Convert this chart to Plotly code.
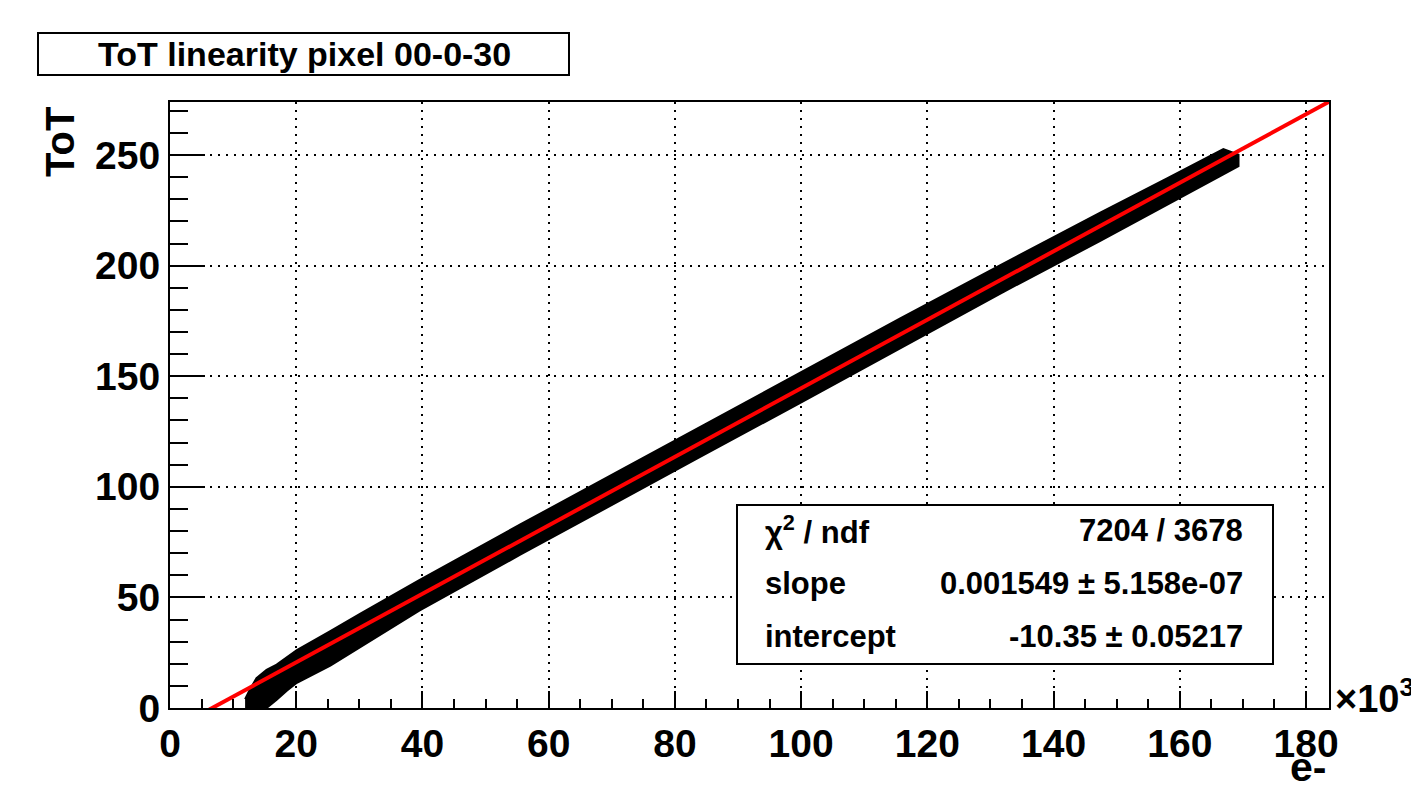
import numpy as np
import plotly.graph_objects as go

# ---------------- data ----------------
title_text = "ToT linearity pixel 00-0-30"
x_title = "e-"
y_title = "ToT"

# measured data band (ToT vs injected charge in e-): upper / lower envelope of the points
band_x = [11900, 12600, 13700, 15300, 16900, 18500, 20100, 25400, 30100,
          39500, 55500, 71300, 84000, 99800, 115700, 131500, 147400, 157900,
          166900, 169300]
band_upper = [4.0, 8.0, 13.5, 17.3, 19.6, 23.0, 26.2, 34.8, 42.6,
              57.8, 83.0, 107.4, 127.0, 151.6, 176.2, 200.1, 224.0, 239.4,
              252.7, 250.2]
band_lower = [-3.0, -3.0, -2.0, 0.0, 3.7, 7.8, 11.4, 19.2, 27.6,
              44.0, 69.3, 93.8, 113.5, 137.9, 162.6, 187.3, 211.2, 227.4,
              241.3, 245.0]

# linear fit
fit_slope = 0.001549
fit_intercept = -10.35
stat_labels = ["\u03c7<sup>2</sup> / ndf", "slope", "intercept"]
stat_values = ["7204 / 3678", "0.001549 \u00b1 5.158e-07", "-10.35 \u00b1 0.05217"]

x_tickvals = [0, 20000, 40000, 60000, 80000, 100000, 120000, 140000, 160000, 180000]
x_ticktext = ["0", "20", "40", "60", "80", "100", "120", "140", "160", "180"]
x_range = [0, 183640]
y_range = [0, 274.0]

# ---------------- layout helpers ----------------
W, H = 1411, 792
L, R, T, B = 170, 1329, 102, 708
FONT = "Liberation Sans, Arial, Helvetica, sans-serif"


def px(p):
    return (p - L) / (R - L)


def py(p):
    return (B - p) / (B - T)


fig = go.Figure()

# data band
bx = list(band_x) + list(band_x[::-1])
by = list(band_upper) + list(band_lower[::-1])
fig.add_trace(go.Scatter(x=bx, y=by, mode="lines", fill="toself",
                         fillcolor="black", line=dict(color="black", width=2),
                         hoverinfo="skip", showlegend=False))

# fit line
fx = np.linspace(x_range[0], x_range[1], 200)
fy = fit_slope * fx + fit_intercept
fig.add_trace(go.Scatter(x=fx, y=fy, mode="lines",
                         line=dict(color="#ff0000", width=4),
                         hoverinfo="skip", showlegend=False))

fig.update_layout(
    width=W, height=H, autosize=False,
    margin=dict(l=L, r=W - R, t=T, b=H - B, pad=0),
    paper_bgcolor="white", plot_bgcolor="white",
    showlegend=False,
    font=dict(family=FONT, color="black"),
)

fig.update_xaxes(
    range=x_range, tickmode="array", tickvals=x_tickvals, ticktext=x_ticktext,
    ticks="inside", ticklen=17, tickwidth=2, tickcolor="black",
    tickfont=dict(family=FONT, size=39, color="black", weight="bold"),
    showline=True, linecolor="black", linewidth=2, mirror=True,
    showgrid=True, gridcolor="black", gridwidth=2, griddash="2px,6px",
    zeroline=False,
    minor=dict(ticks="inside", ticklen=9, tickwidth=2, tickcolor="black",
               tick0=0, dtick=5000, showgrid=False),
)
fig.update_yaxes(
    range=y_range, tick0=0, dtick=50,
    ticks="inside", ticklen=35, tickwidth=2, tickcolor="black",
    tickfont=dict(family=FONT, size=39, color="black", weight="bold"),
    showline=True, linecolor="black", linewidth=2, mirror=True,
    showgrid=True, gridcolor="black", gridwidth=2, griddash="2px,6px",
    zeroline=False,
    minor=dict(ticks="inside", ticklen=18, tickwidth=2, tickcolor="black",
               tick0=0, dtick=10, showgrid=False),
)

shapes = []
annotations = []

# title box
shapes.append(dict(type="rect", xref="paper", yref="paper",
                   x0=px(38), x1=px(569), y0=py(75), y1=py(33),
                   line=dict(color="black", width=2), fillcolor="white", layer="above"))
annotations.append(dict(xref="paper", yref="paper", x=px(304), y=py(54),
                        xanchor="center", yanchor="middle", showarrow=False,
                        text=title_text,
                        font=dict(family=FONT, size=34, color="black", weight="bold")))

# stat box
shapes.append(dict(type="rect", xref="paper", yref="paper",
                   x0=px(737), x1=px(1273), y0=py(664), y1=py(505),
                   line=dict(color="black", width=2), fillcolor="white", layer="above"))
row_y = [530, 583, 636]
for lab, val, yy in zip(stat_labels, stat_values, row_y):
    annotations.append(dict(xref="paper", yref="paper", x=px(763), y=py(yy),
                            xanchor="left", yanchor="middle", showarrow=False,
                            text=lab,
                            font=dict(family=FONT, size=31, color="black", weight="bold")))
    annotations.append(dict(xref="paper", yref="paper", x=px(1245), y=py(yy),
                            xanchor="right", yanchor="middle", showarrow=False,
                            text=val,
                            font=dict(family=FONT, size=31, color="black", weight="bold")))

# axis titles
annotations.append(dict(xref="paper", yref="paper", x=px(60), y=py(142),
                        xanchor="center", yanchor="middle", showarrow=False,
                        text=y_title, textangle=-90,
                        font=dict(family=FONT, size=40, color="black", weight="bold")))
annotations.append(dict(xref="paper", yref="paper", x=px(1328), y=py(767),
                        xanchor="right", yanchor="middle", showarrow=False,
                        text=x_title,
                        font=dict(family=FONT, size=41, color="black", weight="bold")))
annotations.append(dict(xref="paper", yref="paper", x=px(1333), y=py(696),
                        xanchor="left", yanchor="middle", showarrow=False,
                        text="\u00d710<sup>3</sup>",
                        font=dict(family=FONT, size=38, color="black", weight="bold")))

fig.update_layout(shapes=shapes, annotations=annotations)

fig.write_html("out.html")
